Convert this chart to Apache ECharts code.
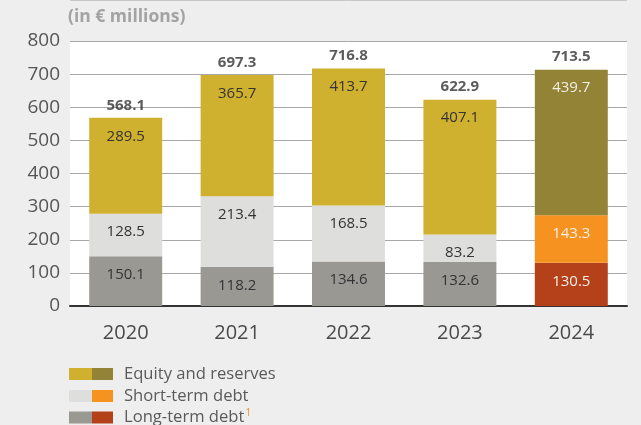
<!DOCTYPE html>
<html>
<head>
<meta charset="utf-8">
<script src="https://cdn.jsdelivr.net/npm/echarts@6/dist/echarts.min.js"></script>
<style>
html,body{margin:0;padding:0;background:#eeeeee;}
#c{width:641px;height:425px;}
</style>
</head>
<body>
<div id="c"></div>
<script>
const categories = ['2020', '2021', '2022', '2023', '2024'];
const equity = [289.5, 365.7, 413.7, 407.1, 439.7];
const shortTerm = [128.5, 213.4, 168.5, 83.2, 143.3];
const longTerm = [150.1, 118.2, 134.6, 132.6, 130.5];
const totals = [568.1, 697.3, 716.8, 622.9, 713.5];
const yTicks = [0, 100, 200, 300, 400, 500, 600, 700, 800];

const FONT = 'Open Sans';
const names = ['Equity and reserves', 'Short-term debt', 'Long-term debt'];
const colorsA = ['#cfb02f', '#dededc', '#9a9893'];
const colorsB = ['#938336', '#f69220', '#b5411b'];
const valuesList = [equity, shortTerm, longTerm];

function split(arr, recent) {
  return arr.map((v, i) => (recent ? (i === 4 ? v : '-') : (i === 4 ? '-' : v)));
}

const series = [];
// bottom-to-top stacking order: long, short, equity
[2, 1, 0].forEach(k => {
  series.push({
    name: names[k],
    type: 'bar',
    stack: 'total',
    barCategoryGap: '34.5%',
    data: split(valuesList[k], false),
    itemStyle: { color: colorsA[k] },
    label: {
      show: true, position: 'insideTop', distance: 11,
      fontFamily: FONT, fontSize: 15, color: '#333',
      formatter: p => p.value.toFixed(1)
    }
  });
  series.push({
    name: names[k] + ' ',
    type: 'bar',
    stack: 'total',
    barCategoryGap: '34.5%',
    data: split(valuesList[k], true),
    itemStyle: { color: colorsB[k] },
    label: {
      show: true, position: 'insideTop', distance: 11,
      fontFamily: FONT, fontSize: 15, color: '#f2efe6',
      formatter: p => p.value.toFixed(1)
    }
  });
});
series.push({
  name: 'Total',
  type: 'scatter',
  data: totals,
  symbolSize: 0,
  silent: true,
  z: 10,
  label: {
    show: true, position: 'top', distance: 5,
    fontFamily: FONT, fontSize: 15, fontWeight: 'bold', color: '#333',
    formatter: p => p.value.toFixed(1)
  }
});

// legend built as graphic: two-colour swatches
const legendRows = [374, 396, 417.5];
const legendGraphics = [];
names.forEach((n, i) => {
  const cy = legendRows[i];
  legendGraphics.push({ type: 'rect', shape: { x: 69, y: cy - 6, width: 23, height: 12 }, style: { fill: colorsA[i] } });
  legendGraphics.push({ type: 'rect', shape: { x: 92, y: cy - 6, width: 21, height: 12 }, style: { fill: colorsB[i] } });
  legendGraphics.push({
    type: 'text', x: 124, y: cy,
    style: {
      text: i === 2 ? n + '{sup|1}' : n,
      fontFamily: FONT, fontSize: 16.6, fill: '#5a5a5a', verticalAlign: 'middle', align: 'left',
      rich: { sup: { fontFamily: FONT, fontSize: 10, fill: '#f29224', verticalAlign: 'top', padding: [0, 0, 8, 1] } }
    }
  });
});

const chart = echarts.init(document.getElementById('c'));
chart.setOption({
  backgroundColor: '#eeeeee',
  animation: false,
  grid: { left: 70, right: 14, top: 41, bottom: 119, show: true, backgroundColor: '#ffffff', borderWidth: 0 },
  graphic: [
    { type: 'line', shape: { x1: 70, y1: 0.5, x2: 627, y2: 0.5 }, style: { stroke: '#c8c8c8', lineWidth: 1 } },
    { type: 'text', x: 68, y: 17.5, style: { text: '(in € millions)', fontFamily: FONT, fontSize: 17.5, fontWeight: 'bold', fill: '#a3a3a3', verticalAlign: 'middle' } }
  ].concat(legendGraphics),
  xAxis: {
    type: 'category',
    data: categories,
    axisLine: { show: true, lineStyle: { color: '#333', width: 2 } },
    axisTick: { show: false },
    axisLabel: { fontFamily: FONT, fontSize: 20, color: '#4a4a4a', margin: 17 }
  },
  yAxis: {
    type: 'value',
    min: yTicks[0], max: yTicks[yTicks.length - 1], interval: 100,
    axisLine: { show: false },
    axisTick: { show: false },
    splitLine: { lineStyle: { color: '#a8a8a8', width: 1 } },
    axisLabel: { fontFamily: FONT, fontSize: 19, color: '#555', margin: 10 }
  },
  series: series
});
</script>
</body>
</html>
